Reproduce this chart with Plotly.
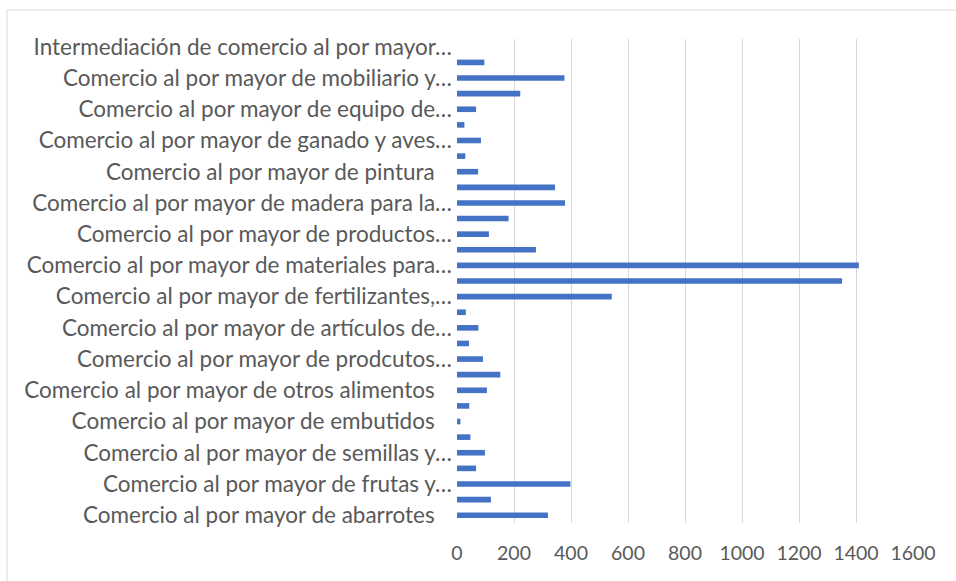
import plotly.graph_objects as go

# Data (bottom to top)
positions = list(range(31))
values = [319, 119, 398, 67, 98, 47, 12, 43, 105, 152, 91, 42, 75, 31, 543,
          1351, 1410, 277, 112, 181, 379, 344, 74, 29, 84, 26, 67, 222, 377, 96, 0]
label_positions = list(range(0, 31, 2))
NB = "\u00a0\u00a0\u00a0"
labels = [
    "Comercio al por mayor de abarrotes" + NB,
    "Comercio al por mayor de frutas y…",
    "Comercio al por mayor de semillas y…",
    "Comercio al por mayor de embutidos" + NB,
    "Comercio al por mayor de otros alimentos" + NB,
    "Comercio al por mayor de prodcutos…",
    "Comercio al por mayor de artículos de…",
    "Comercio al por mayor de fertilizantes,…",
    "Comercio al por mayor de materiales para…",
    "Comercio al por mayor de productos…",
    "Comercio al por mayor de madera para la…",
    "Comercio al por mayor de pintura" + NB,
    "Comercio al por mayor de ganado y aves…",
    "Comercio al por mayor de equipo de…",
    "Comercio al por mayor de mobiliario y…",
    "Intermediación de comercio al por mayor…",
]
x_ticks = list(range(0, 1601, 200))

fig = go.Figure(go.Bar(
    x=values, y=positions, orientation="h",
    marker=dict(color="#4472C4", line=dict(width=0)),
    width=0.36,
))

W, H = 956, 581
L, R, T, B = 457, 43, 39, 58
pw, ph = W - L - R, H - T - B

fig.update_layout(
    width=W, height=H,
    margin=dict(l=L, r=R, t=T, b=B, pad=0),
    paper_bgcolor="white", plot_bgcolor="white",
    font=dict(family="Lato", size=20, color="#595959"),
    showlegend=False,
    xaxis=dict(range=[0, 1600], tickvals=x_ticks, showgrid=True,
               gridcolor="#D9D9D9", gridwidth=1, zeroline=False,
               showline=False, ticks="", ticklabelstandoff=16,
               tickfont=dict(size=19.5), fixedrange=True),
    yaxis=dict(range=[-0.5, 30.5], tickvals=label_positions, ticktext=labels,
               showgrid=False, zeroline=False, showline=False, ticks="",
               ticklabelstandoff=4, tickfont=dict(size=22.5), fixedrange=True),
    shapes=[dict(type="rect", xref="paper", yref="paper",
                 x0=(7 - L) / pw, x1=(W + 20 - L) / pw,
                 y0=(H - B - (H + 20)) / ph, y1=(H - B - 10) / ph,
                 line=dict(color="#D9D9D9", width=1), fillcolor="rgba(0,0,0,0)",
                 layer="below")],
)

fig.write_html("out.html", config={"displayModeBar": False},
               post_script="document.body.style.margin='0';")
